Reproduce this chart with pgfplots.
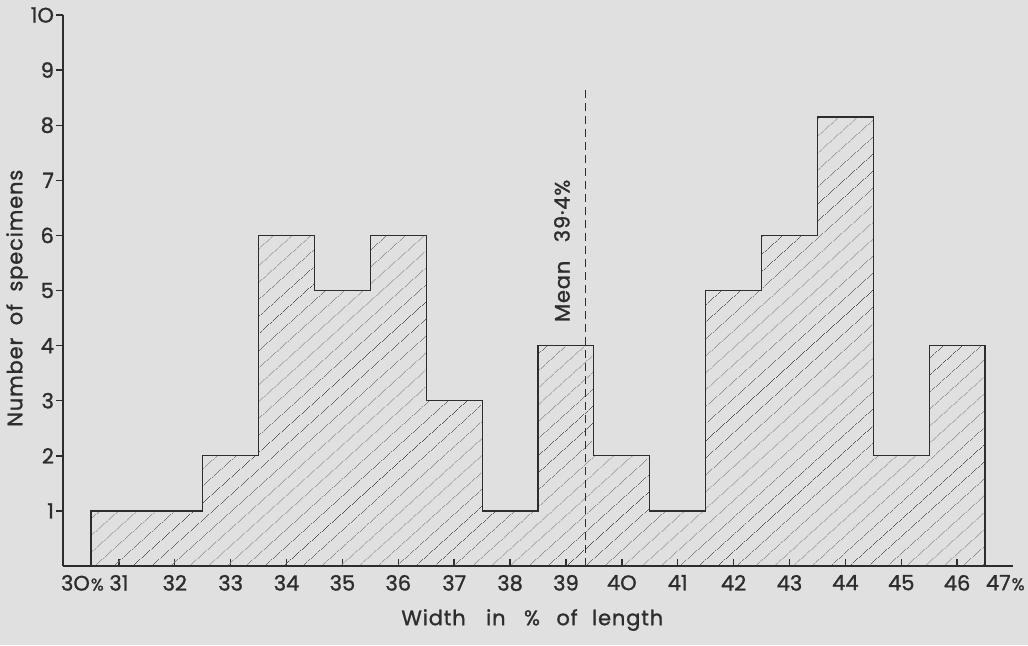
\documentclass[border=0pt]{standalone}
\usepackage{pgfplots}
\pgfplotsset{compat=1.18}
\usetikzlibrary{patterns.meta}
\usepackage{fontspec}
\setmainfont{Poppins}[FakeBold=1.2]
\definecolor{bg}{RGB}{225,224,224}
\definecolor{ink}{RGB}{45,45,45}
\newcommand{\lbl}{\fontsize{10.5}{12}\selectfont\addfontfeatures{LetterSpace=4}}
\newcommand{\spc}{{\fontsize{8.5}{10}\selectfont\%}}
\begin{document}
\begin{tikzpicture}
\path[use as bounding box, fill=bg] (0,0) rectangle (514pt,322.5pt);
\begin{axis}[
  at={(31.5pt,39.5pt)}, anchor=south west,
  scale only axis, width=475pt, height=275.5pt,
  xmin=30, xmax=47, ymin=0, ymax=10,
  axis x line=bottom, axis y line=left,
  axis line style={-, ink, line width=0.8pt},
  clip=false,
  xtick={31,...,46},
  xticklabels={31,32,33,34,35,36,37,38,39,4O,41,42,43,44,45,46},
  extra x ticks={30,47},
  extra x tick labels={\makebox[0pt][l]{\hspace{-1pt}3O\kern0.5pt\spc},\makebox[0pt][l]{\hspace{-13.5pt}47\kern0.5pt\spc}},
  extra x tick style={major tick length=0pt},
  ytick={1,...,10},
  yticklabels={1,2,3,4,5,6,7,8,9,1O},
  tick align=inside,
  major tick length=3.5pt,
  tick style={ink, line width=0.7pt},
  ytick style={xshift=-3.5pt},
  every tick label/.append style={font=\fontsize{10.5}{12}\selectfont, text=ink},
  xticklabel style={yshift=-1pt},
  yticklabel style={xshift=-1pt},
  xlabel={Width\hspace{7pt} in\hspace{6pt} \%\hspace{5pt} of\hspace{4pt} length},
  ylabel={Number\hspace{3pt} of\hspace{3pt} specimens},
  every axis x label/.style={at={(axis description cs:0.494,0)}, anchor=center, yshift=-27pt, font=\lbl, text=ink},
  every axis y label/.style={at={(axis description cs:-0.0484,0.486)}, rotate=90, anchor=center, font=\lbl, text=ink},
]
\addplot[const plot, draw=ink, line width=0.6pt,
  pattern={Lines[angle=42,distance=6.5pt,line width=0.35pt]}, pattern color=ink!85]
  coordinates {
  (30.5,1) (31.5,1) (32.5,2) (33.5,6) (34.5,5) (35.5,6) (36.5,3) (37.5,1)
  (38.5,4) (39.5,2) (40.5,1) (41.5,5) (42.5,6) (43.5,8.15) (44.5,2) (45.5,4) (46.5,4)
  } \closedcycle;
\addplot[ink, line width=0.6pt, dash pattern=on 4pt off 2.5pt] coordinates {(39.35,0) (39.35,8.7)};
\node[rotate=90, font=\lbl, text=ink] at (axis cs:38.93,5.72) {Mean\hspace{6pt} 39·4\%};
\end{axis}
\end{tikzpicture}
\end{document}
